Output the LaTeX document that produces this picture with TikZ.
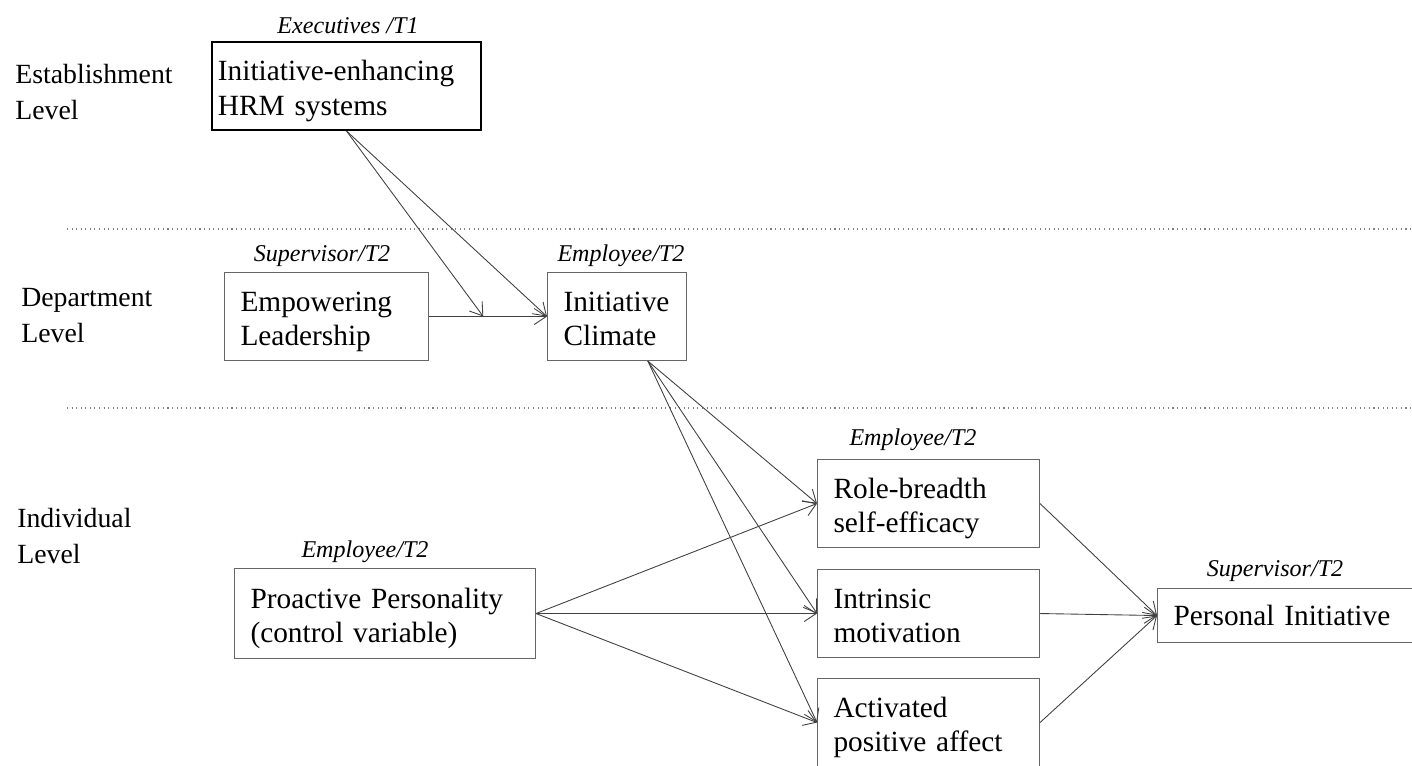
\documentclass[tikz,border=0pt]{standalone}
\usepackage{fontspec}
\setmainfont{Liberation Serif}
\newfontfamily\boxfont{Liberation Serif}[WordSpace=2.1]
\usetikzlibrary{calc}
\usetikzlibrary{arrows.meta}

\begin{document}
\begin{tikzpicture}[x=0.02cm,y=-0.02cm,
    box/.style={draw=black!60, line width=0.6pt, anchor=north west, align=left,
      inner xsep=0.32cm, inner ysep=0.1cm,
      font=\boxfont\fontsize{16.7}{19.6}\selectfont},
    tall/.style={minimum height=1.76cm, text height=0.6cm, text depth=0.8cm},
    lvl/.style={anchor=north west, align=left, inner sep=0pt,
      font=\fontsize{15.8}{20.2}\selectfont},
    src/.style={anchor=base, inner sep=0pt, font=\fontsize{13.7}{16}\selectfont\itshape},
    arr/.style={draw=black!75, line width=0.5pt, -{Straight Barb[length=2.4mm,width=3.2mm]}},
    sep/.style={draw=black!50, line width=0.6pt, dotted}]
            \useasboundingbox (0,0) rectangle (1412,765);
            % levels
            \node[lvl] (est) at (15,64) {Establishment\\Level};
            \node[lvl] (dep) at (21,288) {Department\\Level};
            \node[lvl] (ind) at (17,508) {Individual\\Level};
            \coordinate (s1a) at (67,229);
            \coordinate (s1b) at (1412,229);
            \coordinate (s2a) at (67,408);
            \coordinate (s2b) at (1412,408);
            \draw[sep] (s1a) -- (s1b);
            \draw[sep] (s2a) -- (s2b);
            % boxes
            \node[box, tall, draw=black, line width=1.1pt, inner xsep=0.12cm, text width=5.14cm] (hrm) at (211,41) {Initiative-enhancing\\HRM systems};
            \node[box, tall, text width=3.44cm] (emp) at (224,272) {Empowering\\Leadership};
            \node[box, tall, text width=2.14cm] (clim) at (547,272) {Initiative\\Climate};
            \node[box, tall, text width=5.38cm, minimum height=1.8cm] (pro) at (234,568) {Proactive Personality\\(control variable)};
            \node[box, tall, text width=3.8cm] (role) at (817,459) {Role-breadth\\self-efficacy};
            \node[box, tall, text width=3.8cm] (intr) at (817,569) {Intrinsic\\motivation};
            \node[box, tall, text width=3.8cm] (act) at (817,678) {Activated\\positive affect};
            \node[box, text width=4.52cm, minimum height=1.08cm] (pi) at (1157,588) {Personal Initiative};
            % sources
            \node[src] (lhrm) at (348,33) {Executives /T1};
            \node[src] (lemp) at (322,261) {Supervisor/T2};
            \node[src] (lclim) at (621,261) {Employee/T2};
            \node[src] (lpro) at (365,557) {Employee/T2};
            \node[src] (lrole) at (913,445) {Employee/T2};
            \node[src] (lpi) at (1275,576) {Supervisor/T2};
            % paths
            \coordinate (mid) at ($(emp.east)!0.46!(clim.west)$);
            \coordinate (climout) at ($(clim.south west)!0.72!(clim.south east)$);
            \draw[arr] (emp.east) -- (clim.west);
            \draw[arr] (hrm.south) -- (mid);
            \draw[arr] (hrm.south) -- (clim.west);
            \draw[arr] (climout) -- (role.west);
            \draw[arr] (climout) -- (intr.west);
            \draw[arr] (climout) -- (act.west);
            \draw[arr] (pro.east) -- (role.west);
            \draw[arr] (pro.east) -- (intr.west);
            \draw[arr] (pro.east) -- (act.west);
            \draw[arr] (role.east) -- (pi.west);
            \draw[arr] (intr.east) -- (pi.west);
            \draw[arr] (act.east) -- (pi.west);
        \end{tikzpicture}
\end{document}
